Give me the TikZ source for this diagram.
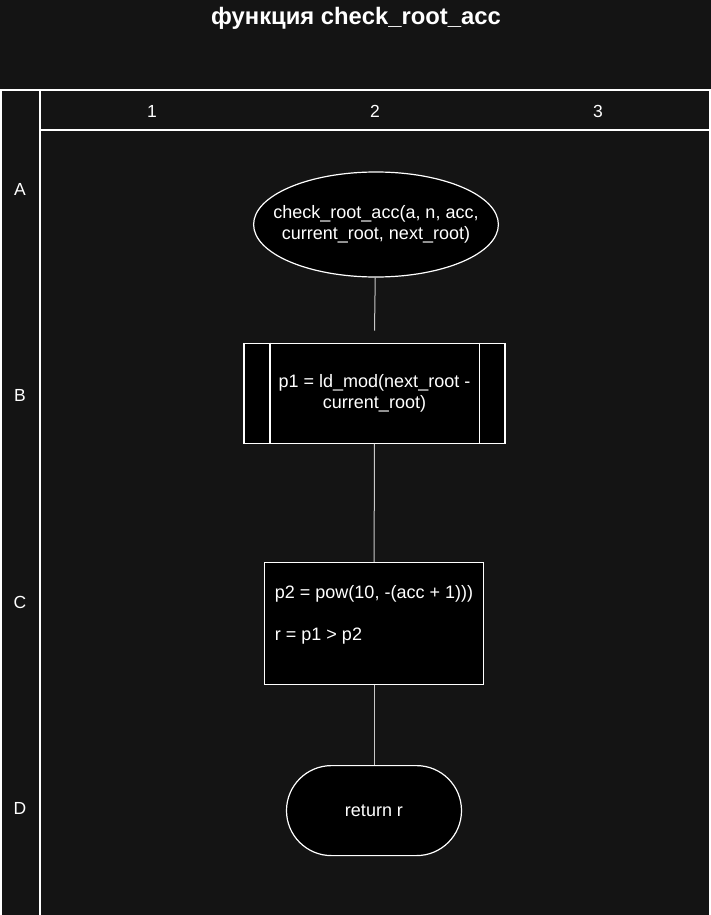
\documentclass[tikz,border=0pt]{standalone}
\usepackage{fontspec}
\setmainfont{Liberation Sans}
\usetikzlibrary{positioning,shapes.geometric}
\definecolor{bgdark}{HTML}{141414}
\definecolor{wire}{HTML}{C8C8C8}
\tikzstyle{lane} = [
    draw=white,
    line width=1.2pt]
\tikzstyle{lanetext} = [
    text=white,
    font=\fontsize{17.5}{21}\selectfont]
\tikzstyle{block} = [
    draw=white,
    fill=black,
    line width=1.2pt,
    text=white,
    inner sep=0pt,
    font=\fontsize{18}{21}\selectfont]
\tikzstyle{terminal} = [
    block,
    ellipse,
    align=center,
    inner xsep=-16pt,
    minimum width=242pt,
    minimum height=105pt]
\tikzstyle{predef} = [
    block,
    rectangle,
    align=center,
    minimum width=261pt,
    minimum height=100pt]
\tikzstyle{action} = [
    block,
    rectangle,
    align=left,
    minimum width=219pt,
    minimum height=122pt]
\tikzstyle{endblock} = [
    block,
    rectangle,
    rounded corners=45pt,
    minimum width=175pt,
    minimum height=90pt]
\tikzstyle{link} = [
    draw=wire,
    line width=1pt]

\begin{document}
\begin{tikzpicture}[x=1pt,y=-1pt]
        \fill[bgdark] (0,0) rectangle (711,915);
        \useasboundingbox (0,0) rectangle (711,915);

        \node[text=white, font=\bfseries\fontsize{23.8}{28}\selectfont] (title) at (356,18) {функция check\_root\_acc};

        % swimlane frame
        \draw[lane] (1,916) |- (710,90) -- (710,916);
        \draw[lane] (40,90) -- (40,916);
        \draw[lane] (40,130) -- (710,130);

        \node[lanetext] (col1) at (152,111) {1};
        \node[lanetext] (col2) at (375,111) {2};
        \node[lanetext] (col3) at (598,111) {3};
        \node[lanetext] (rowA) at (20,189) {A};
        \node[lanetext] (rowB) at (20,395) {B};
        \node[lanetext] (rowC) at (20,602) {C};
        \node[lanetext] (rowD) at (20,808) {D};

        \node[terminal] (start) at (376,224.5) {check\_root\_acc(a, n, acc,\\current\_root, next\_root)};

        \node[predef] (p1) [below = 65pt of start, xshift=-1.5pt] {p1 = ld\_mod(next\_root -\\current\_root)};
        \draw[white, line width=1.2pt] ([xshift=26.5pt]p1.north west) -- ([xshift=26.5pt]p1.south west);
        \draw[white, line width=1.2pt] ([xshift=-26.5pt]p1.north east) -- ([xshift=-26.5pt]p1.south east);

        \node[action] (calc) [below = 118pt of p1, xshift=-0.5pt] {p2 = pow(10, -(acc + 1)))\\\mbox{}\\r = p1 > p2\\\mbox{}};

        \node[endblock] (ret) [below = 80pt of calc] {return r};

        \coordinate (gap) at ([yshift=12pt]p1.north);
        \path[link] (start) -- (gap);
        \path[link] (p1) -- (calc);
        \path[link] (calc) -- (ret);
    \end{tikzpicture}
\end{document}
